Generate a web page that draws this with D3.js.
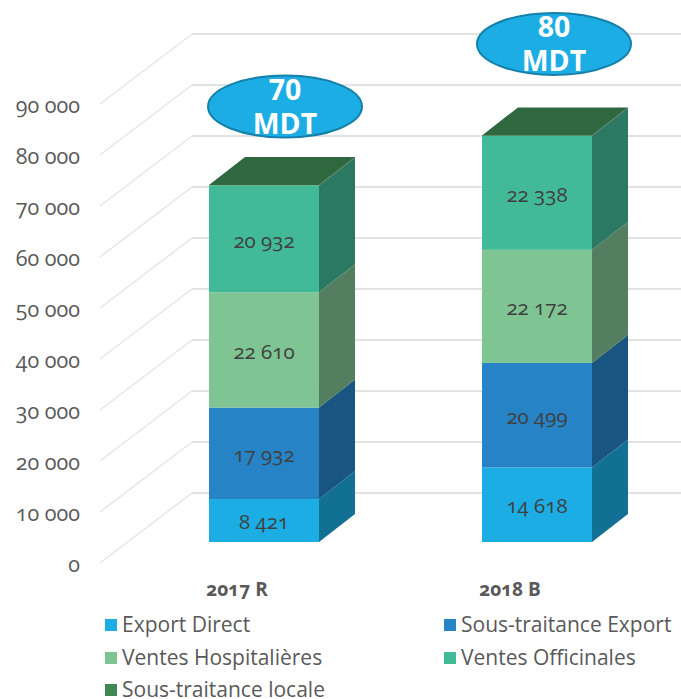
<!DOCTYPE html>
<html><head><meta charset="utf-8">
<script src="https://cdn.jsdelivr.net/npm/d3@7"></script>
<style>
html,body{margin:0;padding:0;background:#fff}
svg{display:block}
text{font-family:"Open Sans","Noto Sans",sans-serif;font-feature-settings:"onum" 1;font-variant-numeric:oldstyle-nums}
</style></head><body><div id="c"></div>
<script>
const categories = ["2017 R","2018 B"];
const seriesNames = ["Export Direct","Sous-traitance Export","Ventes Hospitalières","Ventes Officinales","Sous-traitance locale"];
const exportDirect = [8421,14618];
const sousTraitanceExport = [17932,20499];
const ventesHospitalieres = [22610,22172];
const ventesOfficinales = [20932,22338];
const sousTraitanceLocale = [100,100];
const totals = ["70","80"];
const totalUnit = "MDT";
const tickValues = [0,10000,20000,30000,40000,50000,60000,70000,80000,90000];
const colors = ["#1cade4","#2683c6","#7fc493","#42ba97","#3e8853"];

const W=681,H=699;
const svg=d3.select("#c").append("svg").attr("width",W).attr("height",H);
const seriesValues=[exportDirect,sousTraitanceExport,ventesHospitalieres,ventesOfficinales,sousTraitanceLocale];
const rows=categories.map((c,i)=>{const r={cat:c};seriesNames.forEach((s,j)=>r[s]=seriesValues[j][i]);return r;});
const stacked=d3.stack().keys(seriesNames)(rows);

const x=d3.scaleBand().domain(categories).range([209,592]).paddingInner(0.597).paddingOuter(0);
const y=d3.scaleLinear().domain([0,90000]).range([542,83]);
const yLeft=d3.scaleLinear().domain([0,90000]).range([563,104]);
const yBack=d3.scaleLinear().domain([0,90000]).range([493,34]);
const dx=36,dy=28;
const wallX0=100,wallX1=192;
const fmt=d3.formatLocale({decimal:",",thousands:" ",grouping:[3],currency:["",""]}).format(",d");

// walls
const g=svg.append("g");
g.selectAll("path.g").data(tickValues).join("path").attr("class","g")
 .attr("d",v=>`M${wallX0},${yLeft(v)}L${wallX1},${yBack(v)}`)
 .attr("fill","none").attr("stroke","#e6e6e6").attr("stroke-width",1.5);
g.selectAll("line.b").data(tickValues).join("line").attr("class","b")
 .attr("x1",wallX1).attr("x2",W).attr("y1",v=>yBack(v)).attr("y2",v=>yBack(v))
 .attr("stroke","#e2e2e2").attr("stroke-width",2);

// axis
const ax=svg.append("g").attr("transform","translate(90,2)")
 .call(d3.axisLeft(yLeft).tickValues(tickValues).tickFormat(fmt).tickSize(0).tickPadding(10));
ax.select(".domain").remove();
ax.selectAll("text").attr("font-size",21.5).attr("fill","#595959")
 .style("font-family",'"Open Sans","Noto Sans",sans-serif');

const shade=(c,k)=>{const r=d3.rgb(c);return d3.rgb(r.r*k,r.g*k,r.b*k).formatHex();};
// bars
const bars=svg.append("g");
stacked.forEach((s,si)=>{
  const col=colors[si];
  s.forEach(d=>{
    const c=d.data.cat,x0=x(c),x1=x0+x.bandwidth(),y0=y(d[0]),y1=y(d[1]);
    bars.append("rect").attr("x",x0).attr("y",y1).attr("width",x.bandwidth()).attr("height",y0-y1).attr("fill",col);
    bars.append("path").attr("d",`M${x1},${y0}L${x1},${y1}L${x1+dx},${y1-dy}L${x1+dx},${y0-dy}Z`).attr("fill",shade(col,0.65));
    if(si===seriesNames.length-1){
      bars.append("path").attr("d",`M${x0},${y1}L${x0+dx},${y1-dy}L${x1+dx},${y1-dy}L${x1},${y1}Z`).attr("fill",shade(col,0.76));
    } else {
      bars.append("text").attr("x",(x0+x1)/2).attr("y",(y0+y1)/2+1.5).attr("dy","0.35em").attr("text-anchor","middle")
        .attr("font-size",20.5).attr("fill","#404040").text(fmt(d[1]-d[0]));
    }
  });
});

// category labels
svg.append("g").selectAll("text").data(categories).join("text")
 .attr("x",c=>x(c)+x.bandwidth()/2-27).attr("y",596).attr("text-anchor","middle")
 .attr("font-size",19).attr("font-weight",700).attr("fill","#595959").text(c=>c);

// total bubbles
const bubbleOffsetY=[79,92], bubbleOffsetX=[21,17];
categories.forEach((c,i)=>{
  const top=y(d3.sum(seriesValues.slice(0,4),s=>s[i]));
  const cx=x(c)+x.bandwidth()/2+bubbleOffsetX[i], cy=top-bubbleOffsetY[i];
  svg.append("ellipse").attr("cx",cx).attr("cy",cy).attr("rx",77).attr("ry",31)
    .attr("fill","#1cade4").attr("stroke","#1580a9").attr("stroke-width",2);
  const t=svg.append("text").attr("text-anchor","middle").attr("font-size",28.5).attr("font-weight",700).attr("fill","#fff")
    .style("font-variant-numeric","lining-nums").style("font-feature-settings","normal");
  t.append("tspan").attr("x",cx).attr("y",cy-7).text(totals[i]);
  t.append("tspan").attr("x",cx).attr("y",cy+27).text(totalUnit);
});

// legend
const legendX=[105,444],legendBase=[632,665,697];
seriesNames.forEach((s,i)=>{
  const lx=legendX[i%2],ly=legendBase[Math.floor(i/2)];
  svg.append("rect").attr("x",lx).attr("y",ly-13).attr("width",12).attr("height",12).attr("fill",colors[i]);
  svg.append("text").attr("x",lx+17).attr("y",ly).attr("font-size",21).attr("fill","#595959").text(s);
});
</script></body></html>
